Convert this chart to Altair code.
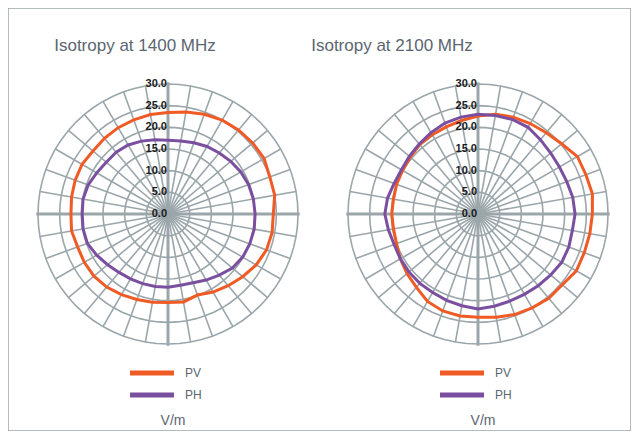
import altair as alt
import pandas as pd

# ---------------- data ----------------
ANGLES = list(range(0, 360, 10))  # degrees, clockwise from top

PV_1400 = [23.4, 23.9, 24.5, 25.0, 25.3, 25.5, 25.6, 25.0, 25.0, 24.3,
           24.4, 24.2, 23.5, 22.5, 21.6, 20.8, 19.9, 20.6, 20.4, 20.7,
           21.0, 21.5, 22.0, 22.3, 22.3, 22.2, 22.6, 22.4, 22.6, 22.8,
           22.9, 22.6, 22.8, 23.0, 23.1, 23.3]
PH_1400 = [17.0, 17.1, 17.5, 18.0, 18.4, 18.9, 19.4, 19.8, 20.0, 20.1,
           20.2, 20.1, 19.9, 19.4, 18.4, 17.6, 16.9, 16.7, 16.9, 17.0,
           17.1, 17.3, 17.6, 18.2, 19.0, 19.8, 19.9, 19.8, 19.9, 19.6,
           19.0, 18.6, 18.6, 18.4, 17.9, 17.4]
PV_2100 = [22.6, 23.4, 23.8, 24.1, 24.5, 25.2, 26.5, 26.5, 26.8, 26.4,
           26.2, 26.1, 26.2, 25.4, 25.4, 25.0, 24.7, 24.2, 23.8, 23.9,
           23.8, 23.3, 22.1, 21.4, 20.7, 20.0, 19.8, 19.9, 19.8, 20.0,
           20.1, 20.4, 20.9, 21.1, 21.4, 21.9]
PH_2100 = [23.0, 23.1, 23.2, 23.1, 22.4, 21.9, 21.7, 21.8, 22.2, 22.4,
           22.1, 22.3, 22.3, 21.9, 21.6, 21.4, 21.4, 21.6, 21.9, 21.5,
           21.2, 20.9, 20.9, 20.8, 20.7, 20.6, 21.0, 21.5, 21.2, 20.6,
           20.4, 20.7, 21.1, 21.7, 22.3, 22.7]

SERIES = ["PV", "PH"]
SERIES_COLORS = ["#f05a24", "#7b4f9f"]
TITLES = ["Isotropy at 1400 MHz", "Isotropy at 2100 MHz"]
UNIT = "V/m"
RING_VALUES = [5, 10, 15, 20, 25, 30]
LABEL_VALUES = [0, 5, 10, 15, 20, 25, 30]
SPOKE_ANGLES = list(range(0, 360, 10))
MAJOR_ANGLES = [0, 90, 180, 270]
RING_STEPS = list(range(0, 360, 5))

# ---------------- style / layout ----------------
GRID = "#9ba6ab"
TEXT = "#5b6670"
FONT = "Liberation Sans"
W, H = 623, 423
K = 130 / 30          # pixels per V/m
CY = 206
YDOM = [-(H - CY) / K, CY / K]

POLX = "datum.r * sin(datum.angle * PI / 180)"
POLY = "datum.r * cos(datum.angle * PI / 180)"

ring_df = pd.DataFrame([{"ring": r, "angle": a} for r in RING_VALUES for a in RING_STEPS])
spoke_df = pd.DataFrame({"angle": [a for a in SPOKE_ANGLES if a not in MAJOR_ANGLES]})
major_df = pd.DataFrame({"angle": MAJOR_ANGLES})
label_df = pd.DataFrame({"r": LABEL_VALUES, "text": [f"{v:.1f}" for v in LABEL_VALUES]})


def curve_df(pv, ph):
    rows = []
    for s, vals in zip(SERIES, [pv, ph]):
        for a, v in zip(ANGLES, vals):
            rows.append({"series": s, "angle": a, "r": v})
    return pd.DataFrame(rows)


def panel(pv, ph, title, cx, title_x, legend_x):
    xs = alt.Scale(domain=[-cx / K, (W - cx) / K], nice=False, zero=False)
    ys = alt.Scale(domain=YDOM, nice=False, zero=False)

    def X(f):
        return alt.X(f"{f}:Q", scale=xs, axis=None)

    def Y(f):
        return alt.Y(f"{f}:Q", scale=ys, axis=None)

    rings = (
        alt.Chart(ring_df)
        .transform_calculate(r="datum.ring")
        .transform_calculate(x=POLX, y=POLY)
        .mark_line(interpolate="linear-closed", stroke=GRID, strokeWidth=1.6)
        .encode(x=X("x"), y=Y("y"), detail="ring:N", order="angle:Q")
    )
    spokes = (
        alt.Chart(spoke_df)
        .transform_calculate(r="30", x0="0", y0="0")
        .transform_calculate(x=POLX, y=POLY)
        .mark_rule(stroke=GRID, strokeWidth=1.6)
        .encode(x=X("x0"), y=Y("y0"), x2="x:Q", y2="y:Q")
    )
    majors = (
        alt.Chart(major_df)
        .transform_calculate(r="30.4", x0="0", y0="0")
        .transform_calculate(x=POLX, y=POLY)
        .mark_rule(stroke=GRID, strokeWidth=3)
        .encode(x=X("x0"), y=Y("y0"), x2="x:Q", y2="y:Q")
    )
    curves = (
        alt.Chart(curve_df(pv, ph))
        .transform_calculate(x=POLX, y=POLY)
        .mark_line(interpolate="linear-closed", strokeWidth=3)
        .encode(
            x=X("x"), y=Y("y"), order="angle:Q",
            color=alt.Color(
                "series:N",
                scale=alt.Scale(domain=SERIES, range=SERIES_COLORS),
                legend=alt.Legend(
                    orient="none", legendX=legend_x, legendY=357,
                    title=UNIT, titleOrient="bottom", titleAnchor="middle",
                    titleFontSize=14, titleFontWeight="normal", titleColor=TEXT,
                    titleFont=FONT, titlePadding=9,
                    labelFont=FONT, labelFontSize=12, labelColor=TEXT,
                    symbolType="M-4,0H4", symbolSize=121, symbolStrokeWidth=5,
                    labelOffset=25, rowPadding=2,
                ),
            ),
        )
    )
    labels = (
        alt.Chart(label_df)
        .transform_calculate(x="0", y="datum.r")
        .mark_text(align="right", baseline="middle", dx=-1, fontSize=11,
                   font=FONT, fontWeight="bold", color="#1a1a1a")
        .encode(x=X("x"), y=Y("y"), text="text:N")
    )
    ttl = (
        alt.Chart(pd.DataFrame({"t": [title]}))
        .mark_text(font=FONT, fontSize=17, color=TEXT, align="center", baseline="alphabetic")
        .encode(x=alt.value(title_x), y=alt.value(43), text="t:N")
    )
    return alt.layer(rings, spokes, majors, curves, labels, ttl)


left = panel(PV_1400, PH_1400, TITLES[0], 160, 127, 136)
right = panel(PV_2100, PH_2100, TITLES[1], 470, 384, 446)

chart = (
    alt.layer(left, right)
    .resolve_scale(x="independent", color="independent")
    .properties(width=W, height=H, padding=0)
    .configure_view(stroke="#9aa5ab", strokeWidth=1.5)
)

chart.save("out.html", embed_options={"renderer": "svg", "actions": False})
